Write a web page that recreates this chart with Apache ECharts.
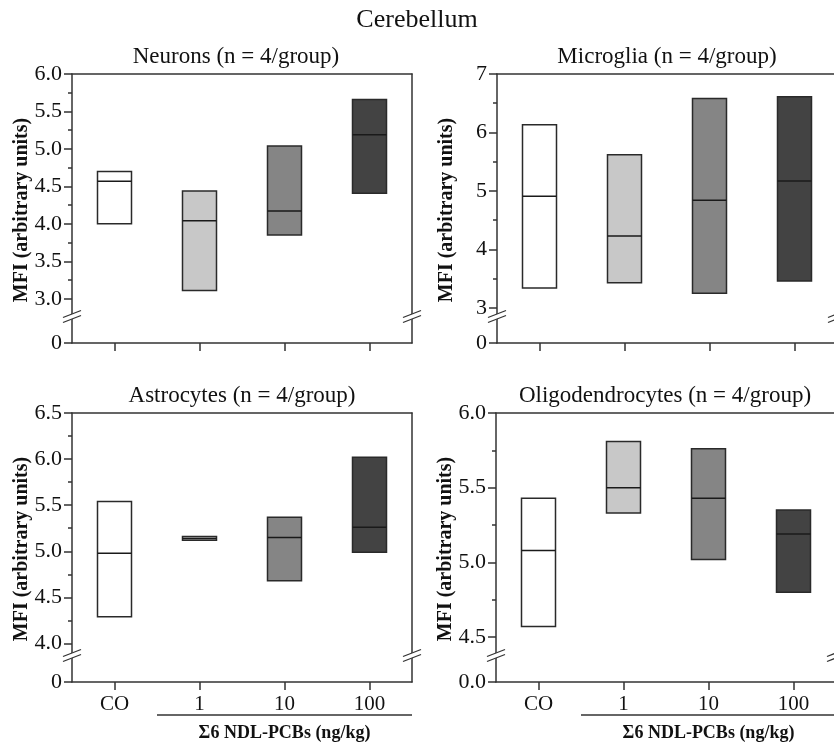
<!DOCTYPE html>
<html>
<head>
<meta charset="utf-8">
<script src="https://cdn.jsdelivr.net/npm/echarts@6/dist/echarts.min.js"></script>
<style>
html,body{margin:0;padding:0;background:#fff;}
#chart{width:834px;height:744px;}
</style>
</head>
<body>
<div id="chart"></div>
<script>
// ---------------- data ----------------
const categories = ['CO', '1', '10', '100'];

const neuronsLow  = [4.00, 3.11, 3.85, 4.41];
const neuronsMed  = [4.57, 4.04, 4.17, 5.19];
const neuronsHigh = [4.70, 4.44, 5.04, 5.66];

const microgliaLow  = [3.34, 3.43, 3.25, 3.46];
const microgliaMed  = [4.91, 4.23, 4.84, 5.17];
const microgliaHigh = [6.13, 5.62, 6.58, 6.61];

const astrocytesLow  = [4.29, 5.12, 4.68, 4.99];
const astrocytesMed  = [4.98, 5.14, 5.15, 5.26];
const astrocytesHigh = [5.54, 5.16, 5.37, 6.02];

const oligoLow  = [4.57, 5.33, 5.02, 4.80];
const oligoMed  = [5.08, 5.50, 5.43, 5.19];
const oligoHigh = [5.43, 5.81, 5.76, 5.35];

const neuronsTicks = [3.0, 3.5, 4.0, 4.5, 5.0, 5.5, 6.0];
const neuronsMinor = [3.25, 3.75, 4.25, 4.75, 5.25, 5.75];
const microgliaTicks = [3, 4, 5, 6, 7];
const microgliaMinor = [3.5, 4.5, 5.5, 6.5];
const astrocytesTicks = [4.0, 4.5, 5.0, 5.5, 6.0, 6.5];
const astrocytesMinor = [4.25, 4.75, 5.25, 5.75, 6.25];
const oligoTicks = [4.5, 5.0, 5.5, 6.0];
const oligoMinor = [4.75, 5.25, 5.75];

const mainTitle = 'Cerebellum';
const yAxisName = 'MFI (arbitrary units)';
const xAxisName = 'Σ6 NDL-PCBs (ng/kg)';

// ---------------- styles / layout ----------------
const FONT = 'Liberation Serif';
const AXIS = '#333333';
const TEXT = '#111111';
const boxColors = ['#ffffff', '#c8c8c8', '#858585', '#434343'];

const UPPER_H = 242, LOWER_H = 27, PANEL_W = 340;

const panels = [
  {title:'Neurons (n = 4/group)', titleX:236, low:neuronsLow, med:neuronsMed, high:neuronsHigh,
   ticks:neuronsTicks, minor:neuronsMinor, dec:1, zero:'0', left:72, top:74, yMin:2.77, yMax:6.0, bottom:false},
  {title:'Microglia (n = 4/group)', titleX:667, low:microgliaLow, med:microgliaMed, high:microgliaHigh,
   ticks:microgliaTicks, minor:microgliaMinor, dec:0, zero:'0', left:497, top:74, yMin:2.86, yMax:7.0, bottom:false},
  {title:'Astrocytes (n = 4/group)', titleX:242, low:astrocytesLow, med:astrocytesMed, high:astrocytesHigh,
   ticks:astrocytesTicks, minor:astrocytesMinor, dec:1, zero:'0', left:72, top:413, yMin:3.875, yMax:6.5, bottom:true},
  {title:'Oligodendrocytes (n = 4/group)', titleX:665, low:oligoLow, med:oligoMed, high:oligoHigh,
   ticks:oligoTicks, minor:oligoMinor, dec:1, zero:'0.0', left:496, top:413, yMin:4.38, yMax:6.0, bottom:true}
];

const grid = [], xAxis = [], yAxis = [], series = [], graphic = [];
const lineStyle = {color: AXIS, width: 1.5};

panels.forEach((p, k) => {
  const gU = grid.length;
  grid.push({left:p.left, top:p.top, width:PANEL_W, height:UPPER_H, containLabel:false, outerBoundsMode:'none'});
  const gL = grid.length;
  grid.push({left:p.left, top:p.top + UPPER_H, width:PANEL_W, height:LOWER_H, containLabel:false, outerBoundsMode:'none'});

  // upper grid axes
  const xU = xAxis.length;
  xAxis.push({gridIndex:gU, type:'category', data:categories, position:'top',
    axisLine:{show:true, onZero:false, lineStyle}, axisTick:{show:false}, axisLabel:{show:false}, splitLine:{show:false}});
  const yU = yAxis.length;
  yAxis.push({gridIndex:gU, type:'value', min:p.yMin, max:p.yMax, position:'left',
    axisLine:{show:true, onZero:false, lineStyle},
    axisTick:{show:true, length:8, customValues:p.ticks, lineStyle},
    axisLabel:{show:true, customValues:p.ticks, margin:10, fontFamily:FONT, fontSize:22, color:TEXT,
      formatter:v => Number(v).toFixed(p.dec)},
    splitLine:{show:false}});
  yAxis.push({gridIndex:gU, type:'value', min:p.yMin, max:p.yMax, position:'left',
    axisLine:{show:false}, axisTick:{show:true, length:4, customValues:p.minor, lineStyle},
    axisLabel:{show:false}, splitLine:{show:false}});
  yAxis.push({gridIndex:gU, type:'value', min:p.yMin, max:p.yMax, position:'right',
    axisLine:{show:true, onZero:false, lineStyle}, axisTick:{show:false}, axisLabel:{show:false}, splitLine:{show:false}});

  // lower grid axes
  xAxis.push({gridIndex:gL, type:'category', data:categories, position:'bottom',
    axisLine:{show:true, onZero:false, lineStyle},
    axisTick:{show:true, alignWithLabel:true, length:8, lineStyle},
    axisLabel:{show:p.bottom, margin:12, fontFamily:FONT, fontSize:21, color:TEXT},
    splitLine:{show:false}});
  yAxis.push({gridIndex:gL, type:'value', min:0, max:1, position:'left',
    axisLine:{show:true, onZero:false, lineStyle},
    axisTick:{show:true, length:8, customValues:[0], lineStyle},
    axisLabel:{show:true, customValues:[0], margin:10, fontFamily:FONT, fontSize:22, color:TEXT,
      formatter:() => p.zero},
    splitLine:{show:false}});
  yAxis.push({gridIndex:gL, type:'value', min:0, max:1, position:'right',
    axisLine:{show:true, onZero:false, lineStyle}, axisTick:{show:false}, axisLabel:{show:false}, splitLine:{show:false}});

  // boxes
  series.push({
    type:'custom', xAxisIndex:xU, yAxisIndex:yU, silent:true,
    data: categories.map((c, i) => [i, p.low[i], p.med[i], p.high[i]]),
    encode:{x:0, y:[1, 2, 3]},
    renderItem:(params, api) => {
      const i = api.value(0);
      const lo = api.coord([i, api.value(1)]);
      const md = api.coord([i, api.value(2)]);
      const hi = api.coord([i, api.value(3)]);
      const w = api.size([1, 0])[0] * 0.4;
      const x0 = lo[0] - w / 2;
      return {type:'group', children:[
        {type:'rect', shape:{x:x0, y:hi[1], width:w, height:lo[1] - hi[1]},
         style:{fill:boxColors[i], stroke:'#2a2a2a', lineWidth:1.5}},
        {type:'line', shape:{x1:x0, y1:md[1], x2:x0 + w, y2:md[1]},
         style:{stroke:'#1a1a1a', lineWidth:1.5}}
      ]};
    }
  });

  // panel title
  graphic.push({type:'text', x:p.titleX, y:p.top - 17,
    style:{text:p.title, font:'23px "' + FONT + '"', fill:TEXT, textAlign:'center', textVerticalAlign:'middle'}});
  // y axis name
  graphic.push({type:'text', x:p.left - 50, y:p.top + 136, rotation:Math.PI / 2,
    style:{text:yAxisName, font:'bold 20px "' + FONT + '"', fill:TEXT, textAlign:'center', textVerticalAlign:'middle'}});

  // axis break marks
  const by = p.top + UPPER_H;
  [p.left, p.left + PANEL_W].forEach(bx => {
    graphic.push({type:'polygon', shape:{points:[[bx-8, by+1.5],[bx+8, by-5.5],[bx+8, by-0.5],[bx-8, by+6.5]]},
      style:{fill:'#ffffff'}, z:100});
    graphic.push({type:'line', shape:{x1:bx-9, y1:by+1.5, x2:bx+9, y2:by-5.5}, style:{stroke:AXIS, lineWidth:1.3}, z:101});
    graphic.push({type:'line', shape:{x1:bx-9, y1:by+6.5, x2:bx+9, y2:by-0.5}, style:{stroke:AXIS, lineWidth:1.3}, z:101});
  });

  if (p.bottom) {
    const mid = p.left + PANEL_W / 8 * 2;   // between first and second category
    graphic.push({type:'line', shape:{x1:mid, y1:715, x2:p.left + PANEL_W, y2:715}, style:{stroke:AXIS, lineWidth:1.5}});
    graphic.push({type:'text', x:(mid + p.left + PANEL_W) / 2, y:733,
      style:{text:xAxisName, font:'bold 18px "' + FONT + '"', fill:TEXT, textAlign:'center', textVerticalAlign:'middle'}});
  }
});

graphic.push({type:'text', x:417, y:20,
  style:{text:mainTitle, font:'26px "' + FONT + '"', fill:TEXT, textAlign:'center', textVerticalAlign:'middle'}});

const chart = echarts.init(document.getElementById('chart'), null, {renderer:'canvas'});
chart.setOption({
  animation:false,
  backgroundColor:'#ffffff',
  grid, xAxis, yAxis, series, graphic
});
</script>
</body>
</html>
